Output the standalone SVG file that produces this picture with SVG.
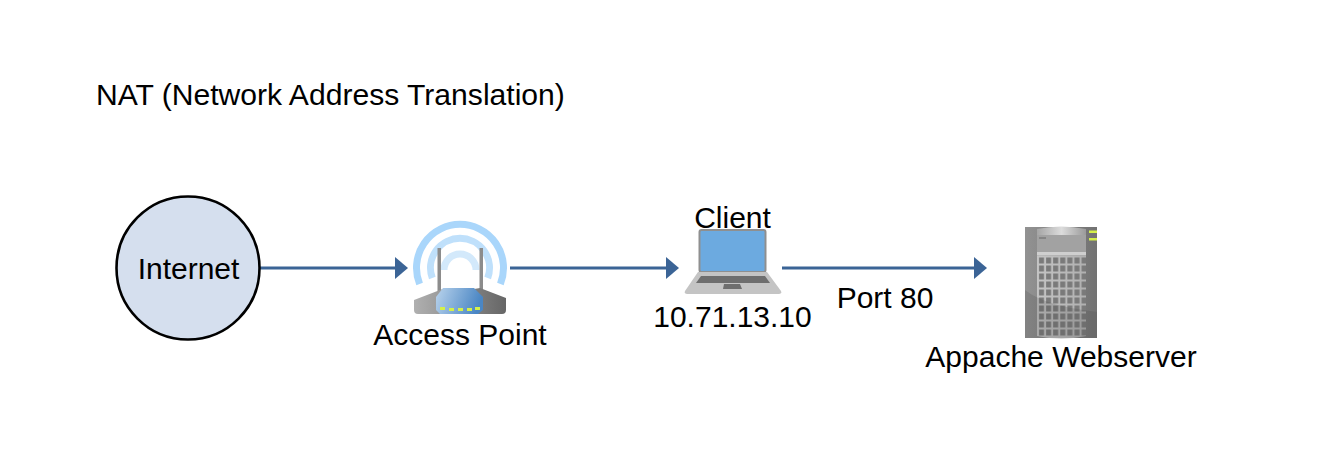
<svg xmlns="http://www.w3.org/2000/svg" width="1326" height="454" viewBox="0 0 1326 454">
<style>
text{font-family:"Liberation Sans",Arial,sans-serif;font-size:30px;fill:#000}
.m{text-anchor:middle}
.conn{stroke:#3b6496;stroke-width:3;fill:none;marker-end:url(#ah)}
.ring{fill:none;stroke-width:7;stroke-linecap:butt}
.led{fill:#d4f04a}
</style>
<defs>
<marker id="ah" markerUnits="userSpaceOnUse" markerWidth="13" markerHeight="24" refX="1" refY="12" orient="auto"><path d="M0 1L13 12L0 23Z" fill="#3b6496"/></marker>
<linearGradient id="rb" x1="0" x2="1" y1="0" y2="0"><stop offset="0" stop-color="#b0b0b0"/><stop offset="1" stop-color="#666"/></linearGradient>
<linearGradient id="rf" x1="0" x2="1" y1="0" y2="0.2"><stop offset="0" stop-color="#b9d3ec"/><stop offset="1" stop-color="#4a86c4"/></linearGradient>
<linearGradient id="sv" x1="0" x2="1" y1="0" y2="0"><stop offset="0" stop-color="#929292"/><stop offset="1" stop-color="#727272"/></linearGradient>
<linearGradient id="st" x1="0" x2="1" y1="0" y2="0"><stop offset="0" stop-color="#a5a5a5"/><stop offset=".5" stop-color="#dcdcdc"/><stop offset="1" stop-color="#9a9a9a"/></linearGradient>
<linearGradient id="sg" x1="0" x2="1" y1="0" y2="0"><stop offset="0" stop-color="#c4c4c4"/><stop offset="1" stop-color="#b0b0b0"/></linearGradient>
<pattern id="cells" patternUnits="userSpaceOnUse" x="1038" y="257" width="7.1" height="8"><rect x="1" y="0.5" width="5" height="6" fill="#7a7a7a"/></pattern>
</defs>
<g id="title"><text x="96" y="105" style="font-size:30.1px">NAT (Network Address Translation)</text></g>
<g id="connectors">
<path class="conn" d="M260 268H396"/>
<path class="conn" d="M510 268H667"/>
<path class="conn" d="M782 268H975"/>
</g>
<g id="internet">
<circle cx="188" cy="268" r="71.500" fill="#d5dfee" stroke="#000" stroke-width="2.600"/>
<text class="m" x="188.500" y="279">Internet</text>
</g>
<g id="access-point">
<path class="ring" stroke="#a9d6fb" d="M419.600 284A43.500 43.500 0 1 1 500.400 284"/>
<path class="ring" stroke="#bfe0fb" d="M432.300 278A29.500 29.500 0 1 1 487.700 278"/>
<path class="ring" stroke="#d3e9fb" stroke-width="6" d="M444 270A16 16 0 1 1 476 270"/>
<rect x="437.500" y="248" width="3.500" height="44" fill="#8c8c8c"/>
<rect x="479.500" y="248" width="3.500" height="44" fill="#8c8c8c"/>
<path d="M414 300L440 290L443 289H474L480 288L506 298V310Q506 314 502 314H418Q414 314 414 310Z" fill="url(#rb)"/>
<path d="M436 297L443 288H474L483 297V310L478 314H440L436 310Z" fill="url(#rf)"/>
<rect class="led" x="440" y="307" width="5" height="3"/>
<rect class="led" x="449" y="308" width="5" height="3"/>
<rect class="led" x="458" y="308" width="5" height="3"/>
<rect class="led" x="467" y="308" width="5" height="3"/>
<rect class="led" x="475" y="307" width="5" height="3"/>
<text class="m" x="460" y="345">Access Point</text>
</g>
<g id="client">
<rect x="699.500" y="230" width="66" height="42" rx="2" fill="#6caae0" stroke="#8f8f8f" stroke-width="2"/>
<path d="M698 272H767L781 291Q782 294 779 294H687Q684 294 685 291Z" fill="#c4c4c4"/>
<path d="M701 276H765L770 283H696Z" fill="#6e6e6e"/>
<path d="M724 284H740L742 289H723Z" fill="#6e6e6e"/>
<text class="m" x="732.500" y="228">Client</text>
<text class="m" x="732.500" y="327">10.71.13.10</text>
</g>
<g id="port-label"><text class="m" x="885" y="308">Port 80</text></g>
<g id="webserver">
<rect x="1025" y="227" width="72" height="111" fill="url(#sv)"/>
<path d="M1037 229Q1061 224 1086 229V235H1037Z" fill="url(#st)"/>
<rect x="1037" y="235" width="49" height="17" fill="#a2a2a2"/>
<rect x="1039" y="237" width="7" height="2" fill="#858585"/>
<rect x="1037" y="252" width="49" height="3.500" fill="#cfcfcf"/>
<path d="M1037 255.500H1086V336Q1061 341 1037 336Z" fill="url(#sg)"/>
<rect x="1038" y="257" width="48" height="80" fill="url(#cells)"/>
<path d="M1025 290Q1045 306 1097 312V338H1025Z" fill="#444" opacity=".2"/>
<rect class="led" x="1089" y="230.500" width="8" height="2.500"/>
<rect class="led" x="1089" y="238" width="8" height="2.500"/>
<text class="m" x="1061" y="367">Appache Webserver</text>
</g>
</svg>
